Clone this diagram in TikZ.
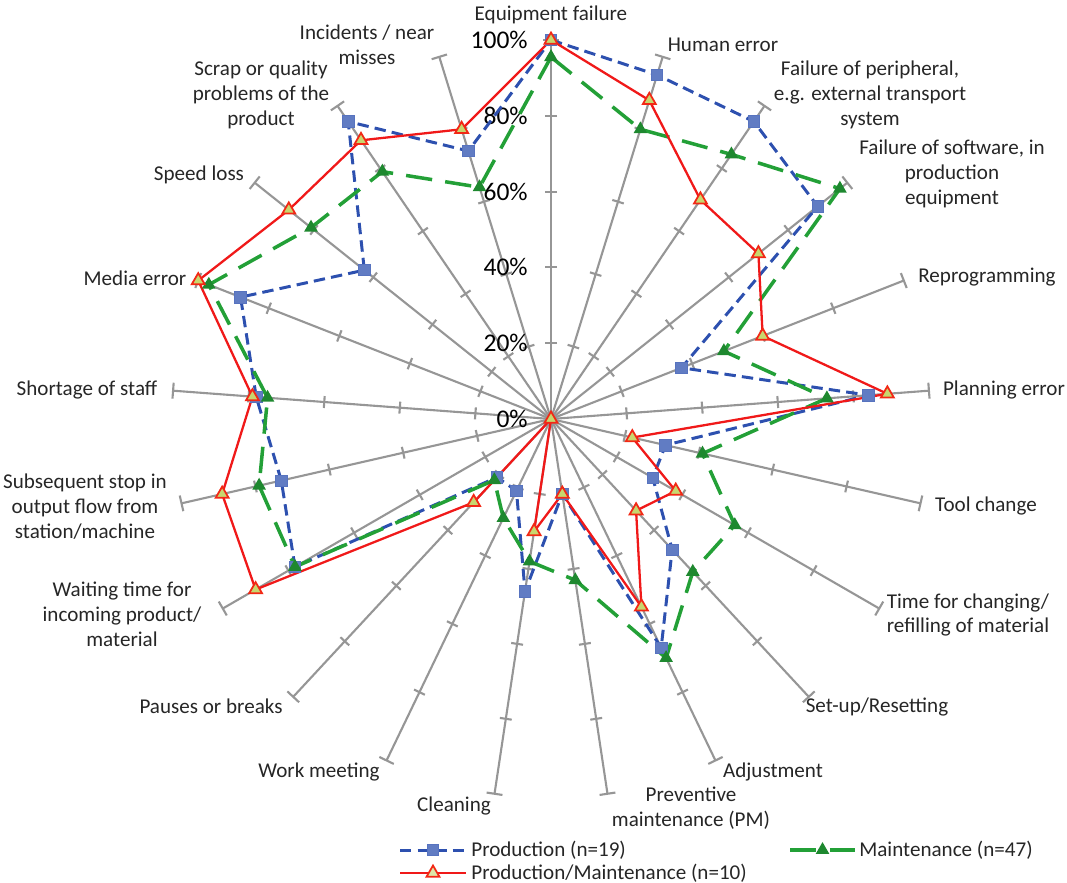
\documentclass[tikz,border=0pt]{standalone}
\usepackage{fontspec}
\setmainfont{Carlito}
\usepackage{tikz}
\usetikzlibrary{shapes,arrows,positioning,calc}
\definecolor{prodblue}{RGB}{45,80,175}
\definecolor{maintgreen}{RGB}{35,160,55}
\definecolor{pmred}{RGB}{240,25,25}
\definecolor{spokegray}{RGB}{150,150,150}
\definecolor{markfill}{RGB}{200,215,110}

% values per spoke, clockwise from Equipment failure
\def\prodvals{1.00,0.95,0.95,0.90,0.37,0.84,0.31,0.31,0.47,0.67,0.20,0.46,0.21,0.21,0.78,0.73,0.78,0.88,0.63,0.95,0.74}
\def\maintvals{0.955,0.80,0.845,0.975,0.49,0.73,0.41,0.56,0.55,0.70,0.43,0.38,0.29,0.22,0.78,0.79,0.75,0.97,0.81,0.79,0.64}
\def\pmvals{1.00,0.88,0.70,0.70,0.60,0.89,0.22,0.38,0.33,0.55,0.20,0.30,0.00,0.30,0.90,0.89,0.79,1.00,0.885,0.89,0.80}

\begin{document}
\begin{tikzpicture}[
    x=0.02cm, y=-0.02cm,
    spoke/.style={spokegray, line width=1.2pt},
    lbl/.style={font=\fontsize{12}{14.2}\selectfont, align=center, text=black!85, inner sep=0},
    pct/.style={font=\fontsize{14.5}{16}\selectfont, anchor=east, inner sep=0},
    legtext/.style={font=\fontsize{12}{14}\selectfont, anchor=west, text=black!85, inner sep=0},
    prodline/.style={prodblue, line width=1.7pt, dash pattern=on 6.5pt off 3.5pt},
    maintline/.style={maintgreen, line width=2pt, dash pattern=on 15pt off 7.5pt},
    pmline/.style={pmred, line width=1.3pt},
    bmark/.style={rectangle, fill=prodblue!75, draw=prodblue!80, line width=0.4pt, minimum size=6.5pt, inner sep=0},
    gmark/.style={regular polygon, regular polygon sides=3, fill=maintgreen!85!black, minimum size=9pt, inner sep=0},
    rmark/.style={regular polygon, regular polygon sides=3, fill=markfill, draw=pmred!85!orange, line width=1pt, minimum size=8.5pt, inner sep=0}
]
    \useasboundingbox (0,0) rectangle (1067,882);

    % Spokes with ticks
    \begin{scope}[shift={(551,419)}]
        \coordinate (c) at (0,0);
        \foreach \i in {0,...,20} {
            \pgfmathsetmacro{\ang}{\i*360/21-90}
            \coordinate (e\i) at (\ang:379);
            \draw[spoke] (c) -- (e\i);
            \draw[spoke] (e\i) ++(\ang+90:8) -- ++(\ang-90:16);
            \foreach \k in {1,...,4} {
                \draw[spoke] (\ang:\k*75.8) ++(\ang+90:6) -- ++(\ang-90:12);
            }
        }

        % Data points
        \foreach \v [count=\n from 0] in \prodvals {
            \coordinate (b\n) at (\n*360/21-90:\v*379);
        }
        \foreach \v [count=\n from 0] in \maintvals {
            \coordinate (g\n) at (\n*360/21-90:\v*379);
        }
        \foreach \v [count=\n from 0] in \pmvals {
            \coordinate (r\n) at (\n*360/21-90:\v*379);
        }
    \end{scope}

    % Scale labels
    \foreach \k in {0,...,5} {
        \pgfmathtruncatemacro{\pc}{20*\k}
        \node[pct] (p\k) at (528,{419-75.8*\k}) {\pc\%};
    }

    % Series
    \draw[prodline] (b0) \foreach \n in {1,...,20} { -- (b\n) } -- cycle;
    \draw[maintline] (g0) \foreach \n in {1,...,20} { -- (g\n) } -- cycle;
    \draw[pmline] (r0) \foreach \n in {1,...,20} { -- (r\n) } -- cycle;
    \foreach \n in {0,...,20} \node[bmark] (bm\n) at (b\n) {};
    \foreach \n in {0,...,20} \node[gmark] (gm\n) at (g\n) {};
    \foreach \n in {0,...,20} \node[rmark] (rm\n) at (r\n) {};

    % Spoke labels
    \node[lbl] (lab0) at (551,15) {Equipment failure};
    \node[lbl] (lab1) at (723,45) {Human error};
    \node[lbl] (lab2) at (870,95) {Failure of peripheral,\\e.g. external transport\\system};
    \node[lbl] (lab3) at (952,174) {Failure of software, in\\production\\equipment};
    \node[lbl] (lab4) at (987,277) {Reprogramming};
    \node[lbl] (lab5) at (1004,390) {Planning error};
    \node[lbl] (lab6) at (986,506) {Tool change};
    \node[lbl] (lab7) at (968,615) {Time for changing/\\refilling of material};
    \node[lbl] (lab8) at (877,707) {Set-up/Resetting};
    \node[lbl] (lab9) at (773,772) {Adjustment};
    \node[lbl] (lab10) at (691,808) {Preventive\\maintenance (PM)};
    \node[lbl] (lab11) at (454,806) {Cleaning};
    \node[lbl] (lab12) at (319,772) {Work meeting};
    \node[lbl] (lab13) at (211,706) {Pauses or breaks};
    \node[lbl] (lab14) at (122,614) {Waiting time for\\incoming product/\\material};
    \node[lbl] (lab15) at (85,507) {Subsequent stop in\\output flow from\\station/machine};
    \node[lbl] (lab16) at (87,390) {Shortage of staff};
    \node[lbl] (lab17) at (135,278) {Media error};
    \node[lbl] (lab18) at (199,175) {Speed loss};
    \node[lbl] (lab19) at (261,95) {Scrap or quality\\problems of the\\product};
    \node[lbl] (lab20) at (367,45) {Incidents / near\\misses};

    % Legend
    \coordinate (lb1) at (400,850);
    \coordinate (lb2) at (466,850);
    \draw[prodline] (lb1) -- (lb2);
    \node[bmark] (lbm) at ($(lb1)!0.5!(lb2)$) {};
    \node[legtext] (lbt) at (471,850) {Production (n=19)};

    \coordinate (lg1) at (790,850);
    \coordinate (lg2) at (855,850);
    \draw[maintline] (lg1) -- (lg2);
    \node[gmark] (lgm) at ($(lg1)!0.5!(lg2)$) {};
    \node[legtext] (lgt) at (859,850) {Maintenance (n=47)};

    \coordinate (lr1) at (400,873);
    \coordinate (lr2) at (466,873);
    \draw[pmline] (lr1) -- (lr2);
    \node[rmark, fill=markfill!60] (lrm) at ($(lr1)!0.5!(lr2)$) {};
    \node[legtext] (lrt) at (471,873) {Production/Maintenance (n=10)};

\end{tikzpicture}
\end{document}
